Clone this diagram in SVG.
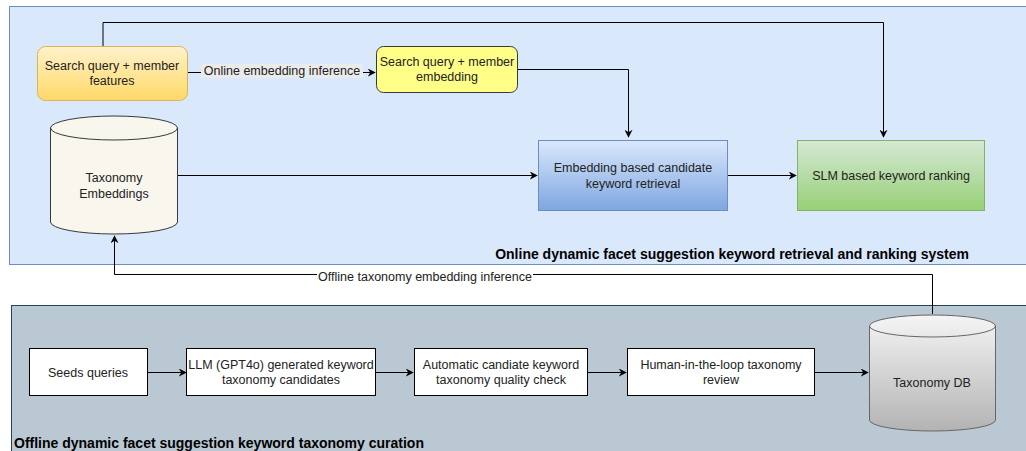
<svg xmlns="http://www.w3.org/2000/svg" width="1026" height="451" viewBox="0 0 1026 451">
<defs>
<linearGradient id="gOrange" x1="0" y1="0" x2="0" y2="1"><stop offset="0" stop-color="#fff2cc"/><stop offset="1" stop-color="#ffd966"/></linearGradient>
<linearGradient id="gBlue" x1="0" y1="0" x2="0" y2="1"><stop offset="0" stop-color="#dae8fc"/><stop offset="1" stop-color="#7ea6e0"/></linearGradient>
<linearGradient id="gGreen" x1="0" y1="0" x2="0" y2="1"><stop offset="0" stop-color="#d5e8d4"/><stop offset="1" stop-color="#97d077"/></linearGradient>
<linearGradient id="gGray" x1="0" y1="0" x2="0" y2="1"><stop offset="0" stop-color="#f5f5f5"/><stop offset="1" stop-color="#b3b3b3"/></linearGradient>
<marker id="arr" viewBox="0 0 10 10" refX="9" refY="5" markerWidth="8" markerHeight="8" markerUnits="userSpaceOnUse" orient="auto"><path d="M0,0 L10,5 L0,10 L3,5 Z" fill="#000"/></marker>
</defs>
<style>
text{font-family:"Liberation Sans",Arial,sans-serif;font-size:12.5px;fill:#222;text-anchor:middle}
.title{font-weight:bold;font-size:14px;fill:#000}
.edge{fill:none;stroke:#000;stroke-width:1}
.box{fill:#fff;stroke:#000;stroke-width:1}
</style>
<rect width="1026" height="451" fill="#fff"/>
<g id="online-container">
<rect x="9.5" y="6.5" width="1030" height="258" fill="#dae8fc" stroke="#6c8ebf"/>
<text class="title" x="969" y="259" text-anchor="end" style="text-anchor:end">Online dynamic facet suggestion keyword retrieval and ranking system</text>
</g>
<g id="offline-container">
<rect x="11.5" y="305.5" width="1030" height="160" fill="#bac8d3" stroke="#23445d"/>
<text class="title" x="14" y="448" style="text-anchor:start">Offline dynamic facet suggestion keyword taxonomy curation</text>
</g>
<g id="connectors">
<path class="edge" d="M103,46 V22.5 H883.5 V137" marker-end="url(#arr)"/>
<path class="edge" d="M517,69.5 H628.5 V137" marker-end="url(#arr)"/>
<path class="edge" d="M187,72.5 H375" marker-end="url(#arr)"/>
<rect x="201" y="64" width="162" height="14" fill="#ebebeb"/>
<text x="282" y="75">Online embedding inference</text>
<path class="edge" d="M177,175.5 H537" marker-end="url(#arr)"/>
<path class="edge" d="M727,175.5 H796" marker-end="url(#arr)"/>
<path class="edge" d="M932.5,314 V274.5 H114.5 V236" marker-end="url(#arr)"/>
<rect x="317" y="270" width="216" height="13" fill="#fff"/>
<text x="425" y="281">Offline taxonomy embedding inference</text>
<path class="edge" d="M148,372.5 H186" marker-end="url(#arr)"/>
<path class="edge" d="M376,372.5 H413" marker-end="url(#arr)"/>
<path class="edge" d="M588,372.5 H626" marker-end="url(#arr)"/>
<path class="edge" d="M814,372.5 H868" marker-end="url(#arr)"/>
</g>
<g id="features">
<rect x="37.5" y="46.5" width="150" height="54" rx="8" fill="url(#gOrange)" stroke="#d6b656"/>
<text x="112" y="70">Search query + member</text>
<text x="112" y="85">features</text>
</g>
<g id="embedding">
<rect x="376.5" y="46.5" width="141" height="46" rx="7" fill="#ffff88" stroke="#36393d"/>
<text x="447" y="66">Search query + member</text>
<text x="447" y="81">embedding</text>
</g>
<g id="taxonomy-embeddings">
<path d="M50.5,128 A63.5,12 0 0 1 177.5,128 V222 A63.5,12 0 0 1 50.5,222 Z" fill="#f9f7ed" stroke="#36393d"/>
<path d="M50.5,128 A63.5,12 0 0 0 177.5,128" fill="none" stroke="#36393d"/>
<text x="114" y="182">Taxonomy</text>
<text x="114" y="198">Embeddings</text>
</g>
<g id="retrieval">
<rect x="538.5" y="140.5" width="189" height="70" fill="url(#gBlue)" stroke="#6c8ebf"/>
<text x="633" y="172">Embedding based candidate</text>
<text x="633" y="188">keyword retrieval</text>
</g>
<g id="ranking">
<rect x="797.5" y="140.5" width="187" height="70" fill="url(#gGreen)" stroke="#82b366"/>
<text x="891" y="180">SLM based keyword ranking</text>
</g>
<g id="seeds">
<rect class="box" x="29.5" y="348.5" width="118" height="47"/>
<text x="88" y="377">Seeds queries</text>
</g>
<g id="llm">
<rect class="box" x="186.5" y="348.5" width="189" height="47"/>
<text x="281" y="369">LLM (GPT4o) generated keyword</text>
<text x="281" y="384">taxonomy candidates</text>
</g>
<g id="quality">
<rect class="box" x="414.5" y="348.5" width="173" height="47"/>
<text x="501" y="369">Automatic candiate keyword</text>
<text x="501" y="384">taxonomy quality check</text>
</g>
<g id="human">
<rect class="box" x="627.5" y="348.5" width="187" height="47"/>
<text x="721" y="369">Human-in-the-loop taxonomy</text>
<text x="721" y="384">review</text>
</g>
<g id="taxonomy-db">
<path d="M869.5,326 A63,11 0 0 1 995.5,326 V420 A63,11 0 0 1 869.5,420 Z" fill="url(#gGray)" stroke="#666"/>
<path d="M869.5,326 A63,11 0 0 0 995.5,326" fill="none" stroke="#666"/>
<text x="932" y="387">Taxonomy DB</text>
</g>
</svg>
